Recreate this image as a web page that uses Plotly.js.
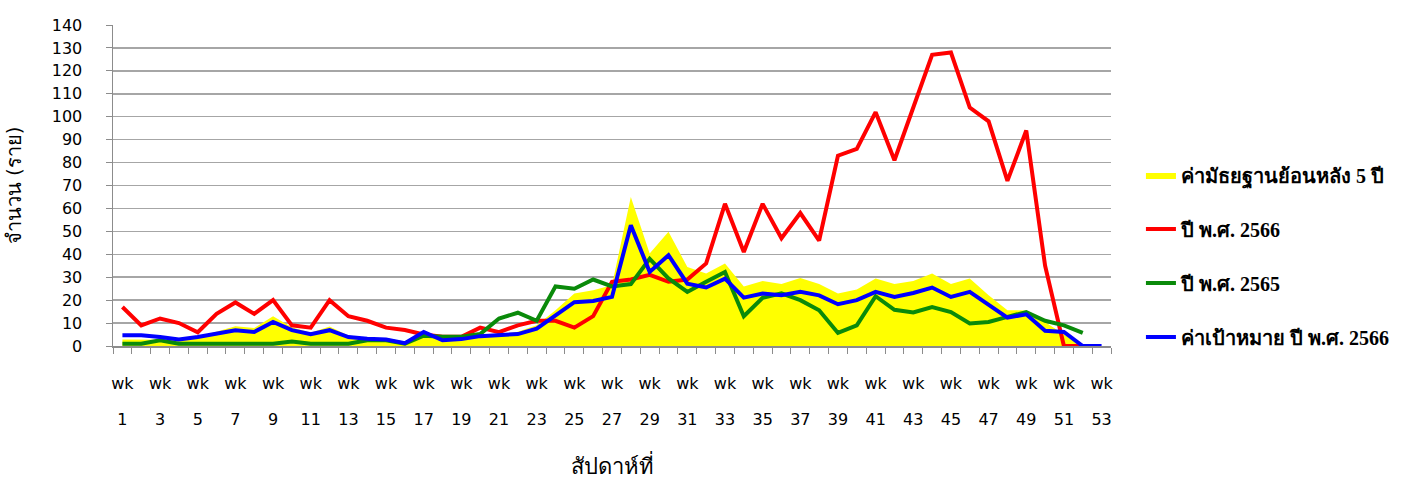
<!DOCTYPE html>
<html>
<head>
<meta charset="utf-8">
<script src="https://cdn.plot.ly/plotly-3.0.1.min.js"></script>
<style>html,body{margin:0;padding:0;background:#fff;}#chart{width:1407px;height:479px;}</style>
</head>
<body>
<div id="chart"></div>
<script>
const weeks = Array.from({length: 53}, (_, i) => i + 1);
const tickWeeks = [1,3,5,7,9,11,13,15,17,19,21,23,25,27,29,31,33,35,37,39,41,43,45,47,49,51,53];
const tickPrefix = tickWeeks.map(() => 'wk');
const tickNumbers = tickWeeks.map(w => String(w));

const seriesNames = ['ค่ามัธยฐานย้อนหลัง 5 ปี', 'ปี พ.ศ. 2566', 'ปี พ.ศ. 2565', 'ค่าเป้าหมาย ปี พ.ศ. 2566'];

const median5y = [2.8,2.8,2.8,2.7,3.9,6.1,8.6,7.9,13,8.2,5.8,8.5,4.6,3.1,2.5,1.5,4.7,3.2,3.2,4,4.7,6.2,9,15.6,22.9,24.3,26.5,65,40.3,49.8,34.5,31.6,36,26,28.4,27,29.7,27,22.9,24.6,29.4,27,28.4,31.6,27,29.4,22.1,15.6,15.5,10.5,5,0,null];
const y2566 = [17,9,12,10,6,14,19,14,20,9,8,20,13,11,8,7,5,4,4,8,6,9,11,11,8,13,28,29,31,28,29,36,62,41,62,47,58,46,83,86,102,81,104,127,128,104,98,72,94,35,0,0,null];
const y2565 = [1,1,2.5,1,1,1,1.3,1,1,2,1,1,1,2.5,2.5,1,4.5,4,4,5.2,12,14.5,11,26,25,29,26,27,38,29.5,23.6,28,32.3,13,21,23,20,15.6,5.7,9,21.7,15.8,14.6,17,14.8,9.8,10.5,12.7,14.8,11,9,5.7,null];
const target2566 = [4.7,4.7,3.9,2.8,3.9,5.4,6.9,6.1,10.5,6.9,5.1,6.9,3.9,3.2,2.8,1.2,6.1,2.5,3,4.3,4.7,5.2,7.6,13.4,19.1,19.6,21.4,52.7,32.3,39.6,27.2,25.5,29.4,21.1,22.9,22.1,23.6,22.1,18.2,20,23.6,21.4,23.1,25.5,21.4,23.6,17.8,12.4,13.8,6.6,6.1,0,0];

const traces = [
  {x: weeks, y: median5y, name: seriesNames[0], type: 'scatter', mode: 'lines', fill: 'tozeroy',
   fillcolor: '#ffff00', line: {width: 0, color: '#ffff00'}, legendgroup: 'a'},
  {x: weeks, y: y2566, name: seriesNames[1], type: 'scatter', mode: 'lines',
   line: {width: 4, color: '#ff0000'}, legendgroup: 'b'},
  {x: weeks, y: y2565, name: seriesNames[2], type: 'scatter', mode: 'lines',
   line: {width: 4, color: '#0a8a0a'}, legendgroup: 'c'},
  {x: weeks, y: target2566, name: seriesNames[3], type: 'scatter', mode: 'lines',
   line: {width: 4, color: '#0000ff'}, legendgroup: 'd'},
  // carrier for the second (number) row of week labels; draws nothing
  {x: weeks, y: weeks.map(() => null), xaxis: 'x2', yaxis: 'y', type: 'scatter', mode: 'lines',
   showlegend: false, hoverinfo: 'skip', line: {width: 0}}
];

const layout = {
  width: 1407, height: 479,
  margin: {l: 113, r: 296, t: 25, b: 133},
  paper_bgcolor: '#ffffff', plot_bgcolor: '#ffffff',
  font: {family: 'DejaVu Sans, sans-serif', color: '#000', size: 15},
  showlegend: true,
  legend: {x: 1.03, xanchor: 'left', y: 0.28, yanchor: 'middle', tracegroupgap: 25,
           font: {family: 'Liberation Serif, serif', size: 20, weight: 'bold', color: '#000'},
           bgcolor: 'rgba(0,0,0,0)'},
  xaxis: {
    range: [0.5, 53.5], tickmode: 'array', tickvals: tickWeeks, ticktext: tickPrefix,
    ticks: '', showgrid: false, zeroline: false, showline: true, linecolor: '#8c8c8c', linewidth: 1.5,
    tickfont: {family: 'DejaVu Sans, sans-serif', size: 16, color: '#000'},
    ticklabelstandoff: 22,
    minor: {tick0: 0.5, dtick: 1, ticks: 'outside', ticklen: 6, tickcolor: '#8c8c8c', tickwidth: 1, showgrid: false},
    fixedrange: true
  },
  xaxis2: {
    overlaying: 'x', anchor: 'y', side: 'bottom',
    range: [0.5, 53.5], tickmode: 'array', tickvals: tickWeeks, ticktext: tickNumbers,
    ticks: '', showgrid: false, zeroline: false, showline: false,
    tickfont: {family: 'DejaVu Sans, sans-serif', size: 16, color: '#000'},
    ticklabelstandoff: 62,
    title: {text: 'สัปดาห์ที่', font: {size: 22, color: '#000'}, standoff: 31},
    fixedrange: true
  },
  yaxis: {
    range: [0, 140], tickmode: 'linear', tick0: 0, dtick: 10,
    ticks: 'outside', ticklen: 6, tickcolor: '#8c8c8c',
    showgrid: true, gridcolor: '#a6a6a6', gridwidth: 1.5, zeroline: false,
    showline: true, linecolor: '#8c8c8c', linewidth: 1.5,
    tickfont: {family: 'DejaVu Sans, sans-serif', size: 16, color: '#000'},
    ticklabelstandoff: 20,
    title: {text: 'จำนวน (ราย)', font: {size: 20, color: '#000'}, standoff: 25},
    fixedrange: true
  }
};

Plotly.newPlot('chart', traces, layout, {displayModeBar: false, staticPlot: true});
</script>
</body>
</html>
